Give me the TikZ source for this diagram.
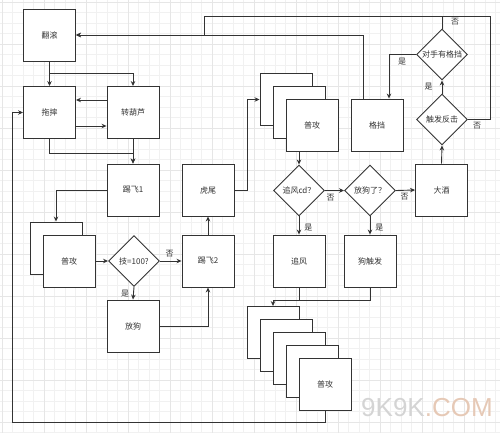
\documentclass[tikz,border=0pt]{standalone}
\usepackage{fontspec}
\newfontfamily\cjk{Noto Sans CJK SC}
\setsansfont{Liberation Sans}
\usetikzlibrary{arrows.meta,shapes.geometric}
\definecolor{ln}{HTML}{333333}
\definecolor{gridc}{HTML}{F1F1F1}
\definecolor{gridm}{HTML}{E6E6E6}
\definecolor{wmA}{HTML}{D4D4D4}
\definecolor{wmB}{HTML}{E6C9B6}
\begin{document}
\begin{tikzpicture}[x=1pt,y=-1pt,
  box/.style={draw=ln,fill=white,line width=0.9pt,minimum width=52pt,minimum height=52pt,inner sep=0pt,font=\cjk\fontsize{8}{9}\selectfont,text=ln},
  dia/.style={diamond,aspect=1,draw=ln,fill=white,line width=0.9pt,minimum width=51pt,minimum height=51pt,inner sep=0pt,font=\cjk\fontsize{8}{9}\selectfont,text=ln},
  conn/.style={draw=ln,line width=0.9pt},
  arr/.style={conn,-{Stealth[length=5pt,width=4.5pt]}},
  lab/.style={font=\cjk\fontsize{8}{9}\selectfont,text=ln,inner sep=0pt}]
\useasboundingbox (0,0) rectangle (500,433);
\fill[white] (0,0) rectangle (500,433);
\foreach \i in {0,...,47} \draw[gridc,line width=0.4pt] (\i*10.5+2,0) -- (\i*10.5+2,433);
\foreach \i in {0,...,41} \draw[gridc,line width=0.4pt] (0,\i*10.5+2) -- (500,\i*10.5+2);
\foreach \i in {0,...,11} \draw[gridm,line width=0.4pt] (\i*42+2,0) -- (\i*42+2,433);
\foreach \i in {0,...,10} \draw[gridm,line width=0.4pt] (0,\i*42+2) -- (500,\i*42+2);

% boxes
\node[box] (fan) at (49.5,35) {翻滚};
\node[box] (tuo) at (49.5,112.5) {拖摔};
\node[box] (zhuan) at (133,112.5) {转葫芦};
\node[box] (ti1) at (133,190) {踢飞1};
\node[box] (huw) at (208,190) {虎尾};
\node[box] (pgAb) at (56,248) {};
\node[box] (pgA) at (69,261) {普攻};
\node[dia] (ji) at (134,261) {技=100?};
\node[box] (ti2) at (208,261) {踢飞2};
\node[box] (fg) at (133,326) {放狗};
\node[box] (pgB1) at (286,99.5) {};
\node[box] (pgB2) at (299,112.5) {};
\node[box] (pgB3) at (312,125) {普攻};
\node[box] (gd) at (377,125) {格挡};
\node[dia] (cf) at (442,119.5) {触发反击};
\node[dia] (ds) at (442,54.5) {对手有格挡};
\node[box] (dj) at (441.5,190) {大酒};
\node[dia] (zfcd) at (299,190.5) {追风cd？};
\node[dia] (fgl) at (370,190.5) {放狗了？};
\node[box] (zf) at (299,261) {追风};
\node[box] (gcf) at (370,261) {狗触发};
\node[box] (pgC1) at (273,332.5) {};
\node[box] (pgC2) at (286,345.5) {};
\node[box] (pgC3) at (299,358.5) {};
\node[box] (pgC4) at (312,371.5) {};
\node[box] (pgC5) at (325,384) {普攻};

\coordinate (t1) at (490,16);
\coordinate (t2) at (204,16);
\coordinate (m1) at (204,35);
\coordinate (lb) at (12,422);

% connectors
\draw[arr] (fan.south) -- (tuo.north);
\draw[arr] (fan.south) -- ++(0,12) -| (zhuan.north);
\draw[arr] ([yshift=12.5pt]zhuan.west) -- ([yshift=12.5pt]tuo.east);
\draw[arr] ([yshift=-13.5pt]tuo.east) -- ([yshift=-13.5pt]zhuan.west);
\draw[arr] (tuo.south) -- ++(0,14) -| (ti1.north);
\draw[arr] (zhuan.south) -- (ti1.north);
\draw[arr] (ti1.west) -| (pgAb.north);
\draw[arr] (pgA.east) -- (ji.west);
\draw[arr] (ji.east) -- (ti2.west) node[lab,pos=0.45,above=3pt] {否};
\draw[arr] (ji.south) -- (fg.north) node[lab,pos=0.5,left=4pt] {是};
\draw[arr] (fg.east) -| (ti2.south);
\draw[arr] (ti2.north) -- (huw.south);
\draw[arr] (huw.east) -- ++(13,0) |- (pgB1.west);
\draw[arr] (pgB2.south |- pgB3.south) -- (zfcd.north);
\draw[arr] (zfcd.east) -- (fgl.west) node[lab,pos=0.3,below=3pt] {否};
\draw[arr] (fgl.east) -- (dj.west) node[lab,pos=0.45,below=3pt] {否};
\draw[arr] (zfcd.south) -- (zf.north) node[lab,pos=0.6,right=5pt] {是};
\draw[arr] (fgl.south) -- (gcf.north) node[lab,pos=0.6,right=5pt] {是};
\draw[conn] (zf.south) -- ++(0,13);
\draw[arr] (gcf.south) -- ++(0,13) -| (pgC1.north);
\draw[arr] (pgC5.south) |- (lb) |- (tuo.west);
\draw[arr] (dj.north) -- (cf.south);
\draw[arr] (cf.north) -- (ds.south) node[lab,pos=0.5,left=9pt] {是};
\draw[arr] (ds.west) -| ([xshift=12pt]gd.north);
\node[lab] at (402,62) {是};
\draw[arr] (cf.east) -| (t1) -- (t2) -- (m1) -- (fan.east);
\node[lab] at (477,126) {否};
\draw[conn] (ds.north) -- (ds.north |- t1);
\node[lab] at (455,22) {否};
\draw[arr] ([xshift=-14pt]gd.north) |- (fan.east);

% watermark
\node[anchor=west,inner sep=0pt,font=\sffamily\fontsize{26}{26}\selectfont] (wm) at (361,408) {\textcolor{wmA}{9K9K}\textcolor{wmB}{.COM}};
\end{tikzpicture}
\end{document}
